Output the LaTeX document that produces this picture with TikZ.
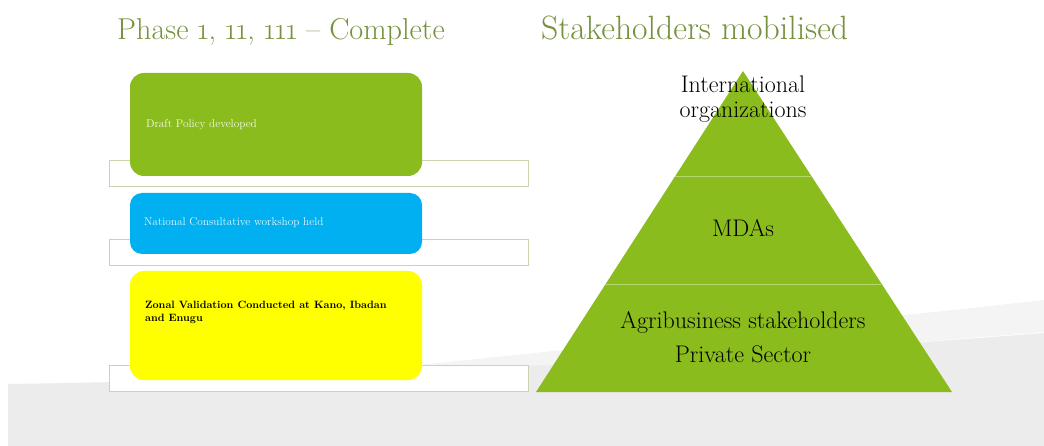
\documentclass[tikz,border=0pt]{standalone}
\usepackage{fontspec}
\setmainfont{Latin Modern Roman}
\definecolor{titlegreen}{RGB}{118,146,60}
\definecolor{boxgreen}{RGB}{139,188,30}
\definecolor{boxblue}{RGB}{0,176,240}
\definecolor{boxyellow}{RGB}{255,255,0}
\definecolor{rimline}{RGB}{205,210,175}
\definecolor{bggray}{RGB}{236,236,236}
\definecolor{bglight}{RGB}{244,244,244}
\definecolor{divline}{RGB}{180,215,110}
\begin{document}
\begin{tikzpicture}[x=1pt,y=-1pt,
  rim/.style={draw=rimline, line width=0.8pt, fill=white},
  title/.style={anchor=base west, text=titlegreen, inner sep=0pt},
  boxtext/.style={anchor=base west, inner sep=0pt, font=\fontsize{11.3}{13.5}\selectfont, align=left},
  pyrtext/.style={anchor=base, inner sep=0pt, font=\fontsize{24}{25}\selectfont, text=black, align=center}]
\useasboundingbox (0,0) rectangle (1044,446);
\fill[white] (0,0) rectangle (1044,446);
% background swoosh
\fill[bglight] (300,378) .. controls (600,345) and (850,322) .. (1044,300) -- (1044,332) .. controls (800,352) and (500,372) .. (300,380) -- cycle;
\fill[bggray] (8,384) .. controls (300,380) and (700,360) .. (1044,333) -- (1044,446) -- (8,446) -- cycle;
% titles
\node[title, font={\fontsize{30.2}{38}\selectfont\addfontfeatures{Numbers=OldStyle}}] (t1) at (117,40) {Phase 1, 11, 111 – Complete};
\node[title, font=\fontsize{33.7}{38}\selectfont] (t2) at (541,40) {Stakeholders mobilised};
% left column rims
\draw[rim] (109,160) rectangle (528,186);
\draw[rim] (109,239) rectangle (528,265);
\draw[rim] (109,365) rectangle (528,391);
% boxes
\fill[boxgreen, rounded corners=14pt] (130,73) rectangle (422,176);
\fill[boxblue, rounded corners=12pt] (130,193) rectangle (422,254);
\fill[boxyellow, rounded corners=14pt] (130,271) rectangle (422,380);
\node[boxtext, text=white!92!boxgreen] (b1) at (146,128) {Draft Policy developed};
\node[boxtext, text=white!90!boxblue] (b2) at (144,226) {National Consultative workshop held};
\node[boxtext, font=\fontsize{10.6}{12.5}\selectfont\bfseries, text=black] (b3) at (145,321) {Zonal Validation Conducted at Kano, Ibadan\\and Enugu};
% pyramid
\fill[boxgreen] (743,71) -- (952,392) -- (536,392) -- cycle;
\draw[divline, line width=1pt] (674.6,177) -- (811.4,177);
\draw[divline, line width=1pt] (605,285) -- (881,285);
\node[pyrtext] (p1) at (743,118) {International\\organizations};
\node[pyrtext] (p2) at (743,237) {MDAs};
\node[pyrtext] (p3) at (743,328) {Agribusiness stakeholders};
\node[pyrtext] (p4) at (743,362) {Private Sector};
\end{tikzpicture}
\end{document}
